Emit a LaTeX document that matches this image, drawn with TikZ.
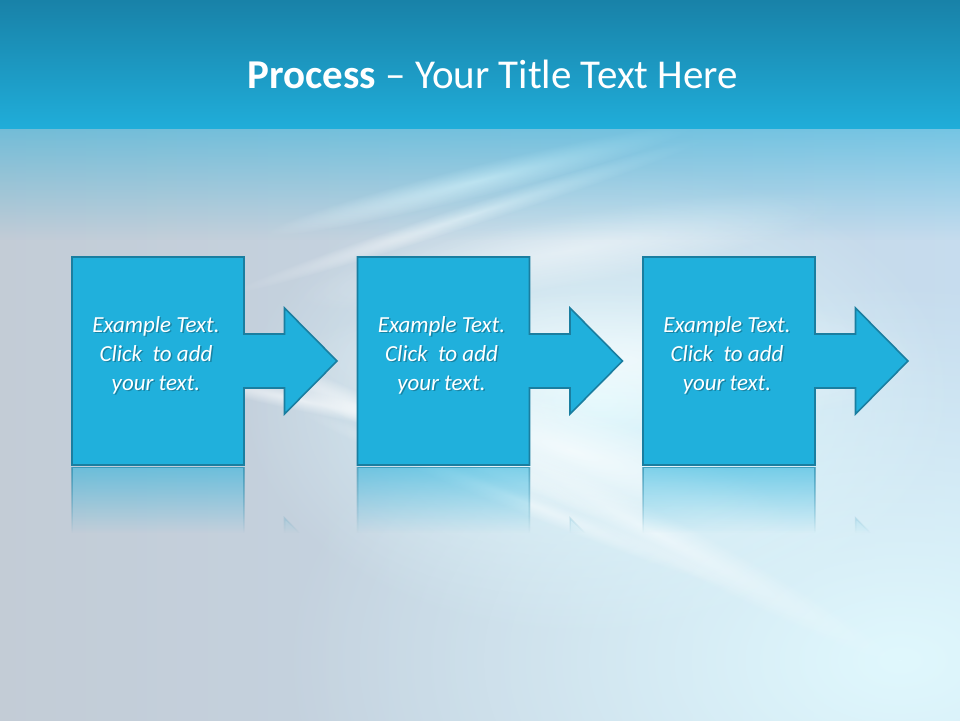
\documentclass[tikz,border=0pt]{standalone}
\usepackage{fontspec}
\setmainfont{Carlito}
\usetikzlibrary{fadings}
\definecolor{titletop}{HTML}{1880A6}
\definecolor{titlebot}{HTML}{20ADD9}
\definecolor{bgleft}{HTML}{C3CCD6}
\definecolor{bgright}{HTML}{C6DCEE}
\definecolor{bgcyan}{HTML}{E0F8FD}
\definecolor{boxblue}{HTML}{20B0DC}
\definecolor{boxline}{HTML}{1A7EA0}
\tikzfading[name=glowfade, inner color=transparent!0, outer color=transparent!100]
\tikzfading[name=barfade, top color=transparent!25, bottom color=transparent!100]
% fitted part of a fading is -25bp..25bp
\begin{tikzfadingfrompicture}[name=reflfade]
  \fill[transparent!100] (-50bp,-50bp) rectangle (50bp,50bp);
  \shade[top color=transparent!45, bottom color=transparent!100] (-25bp,25bp) rectangle (25bp,9bp);
\end{tikzfadingfrompicture}
\tikzset{
  procbox/.style   = {draw=boxline, line width=1.6pt, fill=boxblue, line join=miter},
  reflbox/.style   = {draw=boxline, line width=1.6pt, fill=boxblue, path fading=reflfade},
  proctext/.style  = {text=white, align=center,
                      font=\fontsize{23}{29}\selectfont\itshape},
  textshadow/.style = {proctext, text=black, opacity=0.25},
  titletext/.style = {text=white, font=\fontsize{41}{46}\selectfont},
  streak/.style    = {white, path fading=glowfade}
}

\begin{document}
\begin{tikzpicture}[x=1pt, y=-1pt]
\useasboundingbox (0,0) rectangle (960,720);
\clip (0,0) rectangle (960,720);

% background and light streaks
\shade[left color=bgleft, right color=bgright] (-5,-5) rectangle (965,725);
\fill[bgcyan, path fading=glowfade] (900,660) ellipse (620 and 380);
\fill[bgcyan, path fading=glowfade] (600,400) ellipse (360 and 240);
\foreach \ang/\cx/\cy/\rx/\ry/\op in {14/480/180/220/16/0.8, 18/470/215/250/11/0.6,
    10/570/250/280/36/0.45, 0/610/360/320/70/0.55, -24/410/430/220/16/0.8,
    -18/570/450/240/44/0.65, -28/650/530/280/22/0.5, -12/300/400/170/11/0.6,
    -22/520/500/240/12/0.5}
{
  \begin{scope}[transform canvas={rotate around={\ang:(\cx,\cy)}}]
    \fill[streak, opacity=\op] (\cx,\cy) ellipse (\rx pt and \ry pt);
  \end{scope}
}

% title bar
\fill[titlebot, path fading=barfade] (-5,70) rectangle (965,240);
\shade[top color=titletop, bottom color=titlebot] (-5,-5) rectangle (965,128);
\node[titletext] (title) at (493,74) {\textbf{Process} – Your Title Text Here};

% the three steps, with reflections
\foreach \i in {1,2,3}
{
  \pgfmathsetmacro\xo{72+285.5*(\i-1)}
  \begin{scope}
    \clip (\xo-5,467) rectangle ++(290,90);
    \path[reflbox] (\xo,675) -- ++(172,0) -- ++(0,-77) -- ++(40.5,0) -- ++(0,26)
      -- ++(52.5,-53) -- ++(-52.5,-53) -- ++(0,26) -- ++(-40.5,0) -- ++(0,-77)
      -- ++(-172,0) -- cycle;
  \end{scope}
  \draw[procbox] (\xo,257) -- ++(172,0) -- ++(0,77) -- ++(40.5,0) -- ++(0,-26)
    -- ++(52.5,53) -- ++(-52.5,53) -- ++(0,-26) -- ++(-40.5,0) -- ++(0,77)
    -- ++(-172,0) -- cycle;
  \node[textshadow] (s\i) at (\xo+85.5,356.5) {Example Text.\\Click~ to add\\your text.};
  \node[proctext] (p\i) at (\xo+84,355) {Example Text.\\Click~ to add\\your text.};
}
\end{tikzpicture}
\end{document}
